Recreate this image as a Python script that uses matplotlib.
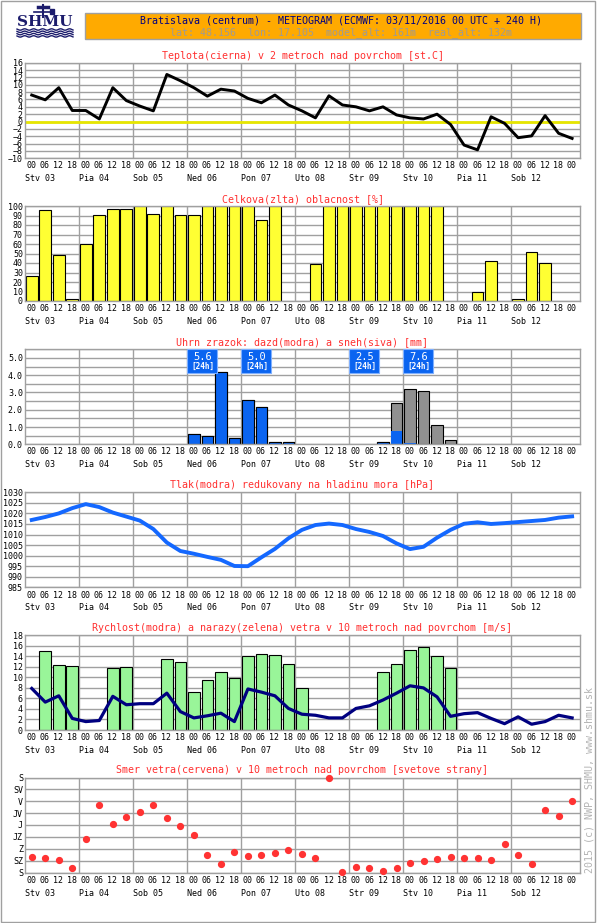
"""
meteogram.py
SHMU style ECMWF meteogram for Bratislava (centrum)
"""
import numpy as np
import matplotlib
matplotlib.use("Agg")
import matplotlib.pyplot as plt
from matplotlib.patches import Rectangle

plt.rcParams["font.family"] = ["DejaVu Sans Mono"]

W, H = 600, 923

# time axis: 0..240 h every 6 h
hours = list(range(0, 241, 6))
day_labels = ["Stv 03", "Pia 04", "Sob 05", "Ned 06", "Pon 07",
              "Uto 08", "Str 09", "Stv 10", "Pia 11", "Sob 12"]

temperature = [7.2, 5.9, 9.2, 3.0, 3.0, 0.7, 9.2, 5.7, 4.2, 2.9,
               12.8, 11.1, 9.2, 6.9, 8.8, 8.3, 6.3, 5.1, 7.2, 4.5,
               2.9, 1.0, 7.0, 4.5, 4.0, 2.9, 4.0, 1.8, 1.0, 0.7,
               2.0, -0.8, -6.4, -7.7, 1.3, -0.5, -4.4, -3.9, 1.6, -3.2, -4.6]

cloud = [26, 96, 48, 2, 60, 91, 97, 97, 100, 92,
         100, 91, 91, 100, 100, 100, 100, 85, 100, 0,
         0, 39, 100, 100, 100, 100, 100, 100, 100, 100,
         100, 0, 0, 9, 42, 0, 2, 52, 40, 0, 0]

rain = [0, 0, 0, 0, 0, 0, 0, 0, 0, 0,
        0, 0, 0.6, 0.5, 4.17, 0.34, 2.57, 2.17, 0.11, 0.11,
        0, 0, 0, 0, 0, 0, 0.11, 0.76, 0.05, 0,
        0, 0, 0, 0, 0, 0, 0, 0, 0, 0, 0]

snow = [0, 0, 0, 0, 0, 0, 0, 0, 0, 0,
        0, 0, 0, 0, 0, 0, 0, 0, 0, 0,
        0, 0, 0, 0, 0, 0, 0, 1.64, 3.15, 3.09,
        1.09, 0.23, 0, 0, 0, 0, 0, 0, 0, 0, 0]

precip_24h_days = [3, 4, 6, 7]
precip_24h = ["5.6", "5.0", "2.5", "7.6"]

pressure = [1016.9, 1018.3, 1020.0, 1022.5, 1024.4, 1023.0, 1020.4, 1018.5, 1016.6, 1012.6,
            1006.2, 1002.2, 1000.9, 999.4, 998.0, 995.1, 995.0, 999.2, 1003.2, 1008.2,
            1012.2, 1014.5, 1015.2, 1014.5, 1012.6, 1011.2, 1009.3, 1005.8, 1003.1, 1004.2,
            1008.5, 1012.2, 1015.1, 1015.8, 1015.0, 1015.4, 1015.9, 1016.4, 1016.9, 1018.0, 1018.6]

wind_speed = [7.9, 5.3, 6.5, 2.2, 1.6, 1.8, 6.4, 4.8, 5.0, 5.0,
              7.0, 3.5, 2.3, 2.7, 3.2, 1.6, 7.8, 7.2, 6.5, 4.1,
              3.0, 2.8, 2.3, 2.3, 4.1, 4.6, 5.7, 7.0, 8.4, 8.0,
              6.3, 2.6, 3.1, 3.3, 2.2, 1.2, 2.5, 1.1, 1.6, 2.8, 2.3]

wind_gust = [0, 15.0, 12.3, 12.1, 0, 0, 11.7, 12.0, 0, 0,
             13.5, 12.9, 7.2, 9.5, 11.1, 9.9, 14.0, 14.4, 14.2, 12.5,
             8.0, 0, 0, 0, 0, 0, 11.0, 12.5, 15.2, 15.7,
             14.0, 11.8, 0, 0, 0, 0, 0, 0, 0, 0, 0]

wind_dir = [302, 306, 312, 344, 233, 104, 176, 150, 129, 104,
            153, 184, 217, 294, 328, 283, 298, 294, 287, 275,
            290, 306, 1, 359, 340, 344, 355, 344, 325, 317,
            308, 302, 306, 306, 312, 252, 294, 328, 123, 146, 89]

dir_labels = ["S", "SV", "V", "JV", "J", "JZ", "Z", "SZ", "S"]

GRID = "#A0A0A0"
TITLE_RED = "#FF3030"
X0, XW = 25, 555          # axes left / width in px
XMAX = 246.5
SHIFT = 3.0               # marks sit in the middle of the 6 h slot
BAR_W = 5.2

fig = plt.figure(figsize=(W / 100, H / 100), dpi=100)

# background layer in pixel coordinates
bg = fig.add_axes([0, 0, 1, 1])
bg.set_xlim(0, W)
bg.set_ylim(H, 0)
bg.axis("off")
bg.add_patch(Rectangle((0.5, 0.5), 594, 921.5, fill=False, ec=GRID, lw=1))
bg.add_patch(Rectangle((85, 13.3), 496, 26, fc="#FFAA00", ec=GRID, lw=1))
bg.text(341, 20.5, "Bratislava (centrum) - METEOGRAM (ECMWF: 03/11/2016 00 UTC + 240 H)",
        ha="center", va="center", fontsize=7.2, color="#000080")
bg.text(341, 32.3, "lat: 48.156  lon: 17.105  model_alt: 161m  real_alt: 132m",
        ha="center", va="center", fontsize=7.2, color="#9E9A94")
bg.text(590, 873, "2015 (c) NWP, SHMU, www.shmu.sk", rotation=90,
        ha="center", va="bottom", fontsize=7.2, color="#B4B4B4")

# logo
navy = "#1C1C6C"
bg.text(45, 22.5, "SHMU", ha="center", va="center", fontsize=11,
        fontweight="bold", family="DejaVu Serif", color=navy)
xs = np.linspace(17, 73, 80)
for k in range(4):
    bg.plot(xs, 29.5 + k * 2.3 + 0.7 * np.sin(xs * 0.7), color=navy, lw=1)
bg.plot([43, 43], [5, 17], color=navy, lw=1.5)
bg.plot([34, 53], [11.5, 11.5], color=navy, lw=1.2)
bg.plot([38, 48], [6.5, 6.5], color=navy, lw=2.5)
bg.add_patch(Rectangle((50, 9), 4, 5, fc=navy, ec=navy))


def panel(top, bottom, title):
    ax = fig.add_axes([X0 / W, 1 - bottom / H, XW / W, (bottom - top) / H])
    ax.set_xlim(0, XMAX)
    ax.set_xticks([24 * d for d in range(1, 10)])
    ax.set_xticklabels([])
    ax.tick_params(length=0, labelsize=6, pad=1.5)
    ax.grid(True, color=GRID, lw=1)
    ax.set_axisbelow(True)
    for s in ax.spines.values():
        s.set_color(GRID)
        s.set_linewidth(1)
    tr = ax.get_xaxis_transform()
    for t in hours:
        ax.annotate("%02d" % (t % 24), xy=(t + 2.8, 0), xycoords=tr,
                    xytext=(0, -7.7 * 0.72), textcoords="offset points",
                    ha="center", va="center", fontsize=6)
    for d, lbl in enumerate(day_labels):
        ax.annotate(lbl, xy=(24 * d, 0), xycoords=tr,
                    xytext=(0, -20.5 * 0.72), textcoords="offset points",
                    ha="left", va="center", fontsize=6)
    ax.set_title(title, color=TITLE_RED, fontsize=7.2, pad=3)
    return ax


x_mid = [t + SHIFT for t in hours]

# temperature
ax = panel(62.7, 158.3, "Teplota(cierna) v 2 metroch nad povrchom [st.C]")
ax.set_ylim(-10, 16)
ax.set_yticks(range(-10, 17, 2))
ax.axhline(0, color="#E6E600", lw=2, zorder=2)
ax.plot(x_mid, temperature, color="black", lw=2.1, zorder=3)

# clouds
ax = panel(206, 301, "Celkova(zlta) oblacnost [%]")
ax.set_ylim(0, 100)
ax.set_yticks(range(0, 101, 10))
cx = [x for x, v in zip(x_mid, cloud) if v > 0]
cv = [v for v in cloud if v > 0]
ax.bar(cx, cv, width=BAR_W, color="#FFFF33", edgecolor="black", lw=0.8)

# precipitation
ax = panel(349.3, 444.3, "Uhrn zrazok: dazd(modra) a sneh(siva) [mm]")
ax.set_ylim(0, 5.5)
pt = [i * 0.5 for i in range(12)]
ax.set_yticks(pt)
ax.set_yticklabels(["%.1f" % v if i % 2 == 0 else "" for i, v in enumerate(pt)])
tot = [r + s for r, s in zip(rain, snow)]
px = [x for x, v in zip(x_mid, tot) if v > 0]
ax.bar(px, [v for v in tot if v > 0], width=BAR_W, color="#909090",
       edgecolor="black", lw=0.8)
rx = [x for x, v in zip(x_mid, rain) if v > 0]
ax.bar(rx, [v for v in rain if v > 0], width=BAR_W, color="#0A64F0",
       edgecolor="none", lw=0)
# redraw outline of pure rain bars
for x, r, s in zip(x_mid, rain, snow):
    if r > 0 and s == 0:
        ax.bar(x, r, width=BAR_W, fill=False, edgecolor="black", lw=0.8)
tr = ax.get_xaxis_transform()
for d, txt in zip(precip_24h_days, precip_24h):
    x0 = 24 * d
    ax.add_patch(Rectangle((x0, 0.753), 13.4, 0.247, transform=tr,
                           fc="#0A64F0", ec="#7FB0FF", lw=0.8, zorder=5,
                           clip_on=False))
    ax.text(x0 + 6.9, 0.92, txt, transform=tr, ha="center", va="center",
            color="white", fontsize=7.5, zorder=6)
    ax.text(x0 + 6.9, 0.82, "[24h]", transform=tr, ha="center", va="center",
            color="white", fontsize=5.6, fontweight="bold", zorder=6)

# pressure
ax = panel(492.3, 587.3, "Tlak(modra) redukovany na hladinu mora [hPa]")
ax.set_ylim(985, 1030)
ax.set_yticks(range(985, 1031, 5))
ax.plot(x_mid, pressure, color="#1468FF", lw=2.8, zorder=3)

# wind speed and gusts
ax = panel(635.3, 730, "Rychlost(modra) a narazy(zelena) vetra v 10 metroch nad povrchom [m/s]")
ax.set_ylim(0, 18)
ax.set_yticks(range(0, 19, 2))
gx = [x for x, v in zip(x_mid, wind_gust) if v > 0]
ax.bar(gx, [v for v in wind_gust if v > 0], width=BAR_W, color="#99F599",
       edgecolor="black", lw=0.8)
ax.plot(x_mid, wind_speed, color="#000080", lw=2.3, zorder=3)

# wind direction
ax = panel(777.5, 872.5, "Smer vetra(cervena) v 10 metroch nad povrchom [svetove strany]")
ax.set_ylim(360, 0)
ax.set_yticks(range(0, 361, 45))
ax.set_yticklabels(dir_labels)
ax.plot(x_mid, wind_dir, "o", color="#FF3333", ms=4.2, mec="#FF3333",
        clip_on=False, zorder=3)

fig.savefig("out.png", dpi=100)
